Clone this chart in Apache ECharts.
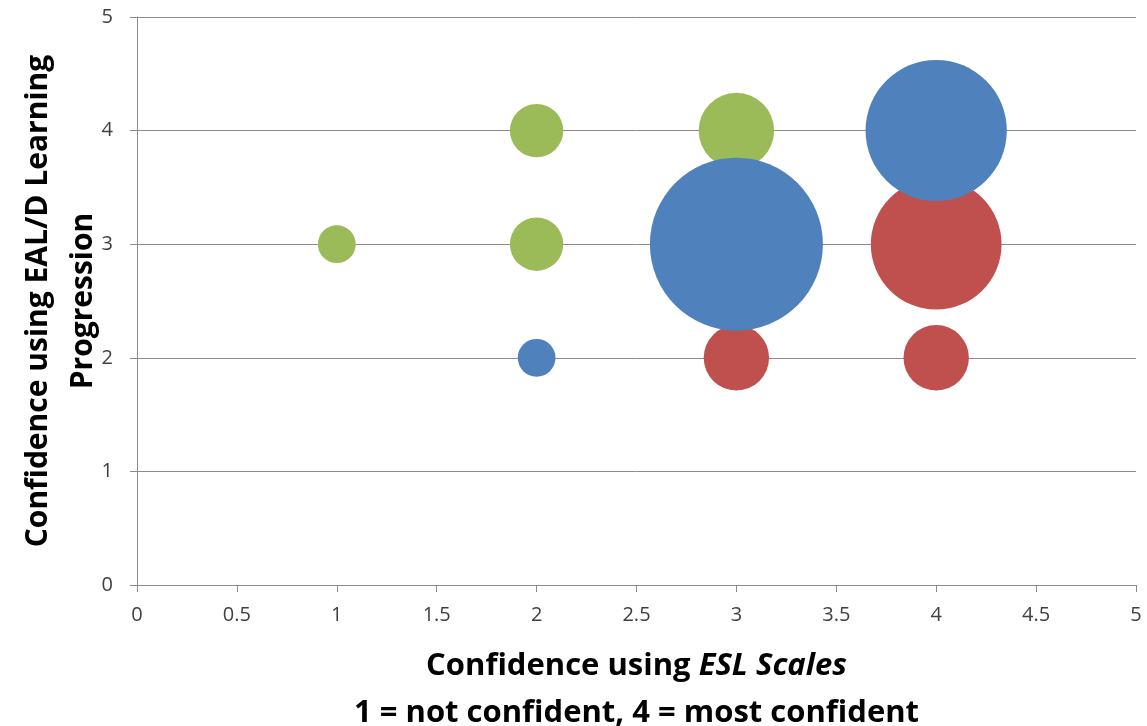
<!DOCTYPE html>
<html>
<head>
<meta charset="utf-8">
<title>Confidence bubble chart</title>
<script src="https://cdn.jsdelivr.net/npm/echarts@6/dist/echarts.min.js"></script>
<style>
  html, body { margin: 0; padding: 0; background: #fff; }
  #chart { width: 1147px; height: 726px; }
</style>
</head>
<body>
<div id="chart"></div>
<script>
// Each point: [ESL Scales confidence, EAL/D Learning Progression confidence, number of responses]
const greenPoints = [[1, 3, 1], [2, 4, 2], [2, 3, 2], [3, 4, 4]];
const redPoints   = [[3, 2, 3], [4, 3, 12], [4, 2, 3]];
const bluePoints  = [[2, 2, 1], [3, 3, 21], [4, 4, 14]];

const xTicks = [0, 0.5, 1, 1.5, 2, 2.5, 3, 3.5, 4, 4.5, 5];
const yTicks = [0, 1, 2, 3, 4, 5];

const seriesColors = { green: '#9BBB59', red: '#C0504D', blue: '#4F81BD' };

// Bubble area proportional to the count; largest bubble about 173px across
const maxCount = 21;
const maxDiameter = 173;
const bubbleSize = d => maxDiameter * Math.sqrt(d[2] / maxCount);

const fontFamily = '"Open Sans", "Noto Sans", sans-serif';
const axisGray = '#8c8c8c';

function bubbleSeries(name, data, color) {
  return {
    name: name,
    type: 'scatter',
    data: data,
    symbol: 'circle',
    symbolSize: bubbleSize,
    itemStyle: { color: color, opacity: 1 },
    emphasis: { disabled: true }
  };
}

const chart = echarts.init(document.getElementById('chart'), null, { renderer: 'canvas' });
chart.setOption({
  backgroundColor: '#ffffff',
  animation: false,
  grid: {
    left: 137, right: 11, top: 17, bottom: 141,
    containLabel: false,
    outerBoundsMode: 'none'
  },
  xAxis: {
    type: 'value',
    min: xTicks[0],
    max: xTicks[xTicks.length - 1],
    interval: 0.5,
    axisLine: { show: true, lineStyle: { color: axisGray, width: 1 } },
    axisTick: { show: true, length: 7, lineStyle: { color: axisGray } },
    splitLine: { show: false },
    axisLabel: {
      margin: 20,
      color: '#404040',
      fontFamily: fontFamily,
      fontSize: 20,
      formatter: v => String(v)
    },
    name: '{b|Confidence using }{bi|ESL Scales}\n{b|1 = not confident, 4 = most confident}',
    nameLocation: 'middle',
    nameGap: 58,
    nameMoveOverlap: false,
    nameTextStyle: {
      align: 'center',
      lineHeight: 47,
      rich: {
        b:  { fontFamily: fontFamily, fontWeight: 'bold', fontSize: 31, color: '#000', lineHeight: 47 },
        bi: { fontFamily: fontFamily, fontWeight: 'bold', fontStyle: 'italic', fontSize: 31, color: '#000', lineHeight: 47 }
      }
    }
  },
  yAxis: {
    type: 'value',
    min: yTicks[0],
    max: yTicks[yTicks.length - 1],
    interval: 1,
    axisLine: { show: true, lineStyle: { color: axisGray, width: 1 } },
    axisTick: { show: true, length: 7, lineStyle: { color: axisGray } },
    splitLine: { show: true, lineStyle: { color: axisGray, width: 1 } },
    axisLabel: {
      margin: 24,
      color: '#404040',
      fontFamily: fontFamily,
      fontSize: 20
    },
    name: 'Confidence using EAL/D Learning\nProgression',
    nameLocation: 'middle',
    nameGap: 31,
    nameMoveOverlap: false,
    nameTextStyle: {
      fontFamily: fontFamily,
      fontWeight: 'bold',
      fontSize: 30,
      color: '#000',
      lineHeight: 45,
      align: 'center'
    }
  },
  series: [
    bubbleSeries('Green', greenPoints, seriesColors.green),
    bubbleSeries('Red', redPoints, seriesColors.red),
    bubbleSeries('Blue', bluePoints, seriesColors.blue)
  ]
});
</script>
</body>
</html>
